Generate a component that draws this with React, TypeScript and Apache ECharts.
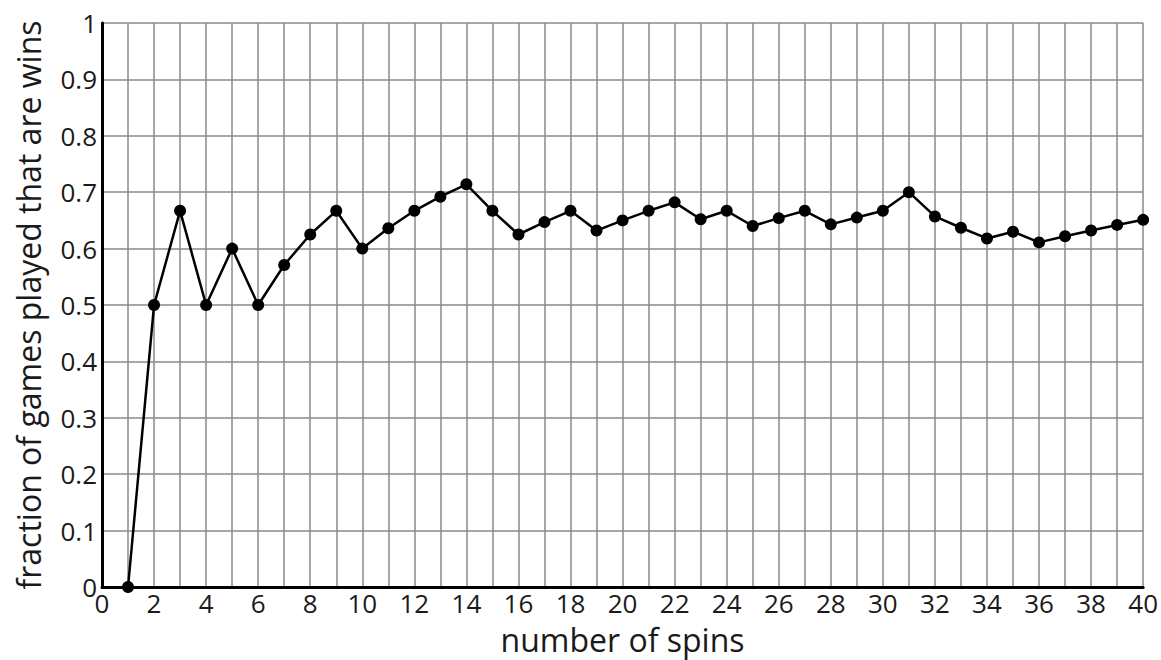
import React, { useEffect, useRef } from "react";
import * as echarts from "echarts";

const spins: number[] = [1,2,3,4,5,6,7,8,9,10,11,12,13,14,15,16,17,18,19,20,21,22,23,24,25,26,27,28,29,30,31,32,33,34,35,36,37,38,39,40];
const fractions: number[] = [0,0.5,0.667,0.5,0.6,0.5,0.571,0.625,0.667,0.6,0.636,0.667,0.692,0.714,0.667,0.625,0.647,0.667,0.632,0.65,0.667,0.682,0.652,0.667,0.64,0.654,0.667,0.643,0.655,0.667,0.7,0.657,0.637,0.618,0.63,0.611,0.622,0.632,0.642,0.651];

const xTitle = "number of spins";
const yTitle = "fraction of games played that are wins";

export default function App() {
  const ref = useRef<HTMLDivElement>(null);
  useEffect(() => {
    if (!ref.current) return;
    const chart = echarts.init(ref.current, null, { renderer: "svg" });
    const font = "'Open Sans', 'Noto Sans', sans-serif";
    chart.setOption({
      animation: false,
      backgroundColor: "#fff",
      grid: { left: 102, right: 17, top: 23, bottom: 73, containLabel: false },
      xAxis: {
        type: "value",
        min: 0,
        max: 40,
        interval: 1,
        name: xTitle,
        nameLocation: "middle",
        nameGap: 36,
        nameTextStyle: { fontFamily: font, fontSize: 32, color: "#1a1a1a" },
        axisLine: { show: true, lineStyle: { color: "#000", width: 3 } },
        axisTick: { show: false },
        axisLabel: {
          fontFamily: font,
          fontSize: 26,
          color: "#1a1a1a",
          margin: 3,
          formatter: (v: number) => (v % 2 === 0 ? String(v) : ""),
        },
        splitLine: { show: true, lineStyle: { color: "#8a8a8a", width: 1.5 } },
      },
      yAxis: {
        type: "value",
        min: 0,
        max: 1,
        interval: 0.1,
        name: yTitle,
        nameLocation: "middle",
        nameGap: 58,
        nameTextStyle: { fontFamily: font, fontSize: 32, color: "#1a1a1a" },
        axisLine: { show: true, lineStyle: { color: "#000", width: 3 } },
        axisTick: { show: false },
        axisLabel: {
          fontFamily: font,
          fontSize: 26,
          color: "#1a1a1a",
          margin: 5,
          formatter: (v: number) => {
            const r = Math.round(v * 10) / 10;
            if (r === 0) return "0";
            if (r === 1) return "1";
            return r.toFixed(1);
          },
        },
        splitLine: { show: true, lineStyle: { color: "#8a8a8a", width: 1.5 } },
      },
      series: [
        {
          type: "line",
          data: spins.map((s, i) => [s, fractions[i]]),
          symbol: "circle",
          symbolSize: 12,
          lineStyle: { color: "#000", width: 2.5 },
          itemStyle: { color: "#000" },
          z: 5,
        },
      ],
    });
    return () => chart.dispose();
  }, []);
  return (
    <div
      ref={ref}
      style={{ position: "fixed", left: 0, top: 0, width: 1161, height: 660 }}
    />
  );
}
